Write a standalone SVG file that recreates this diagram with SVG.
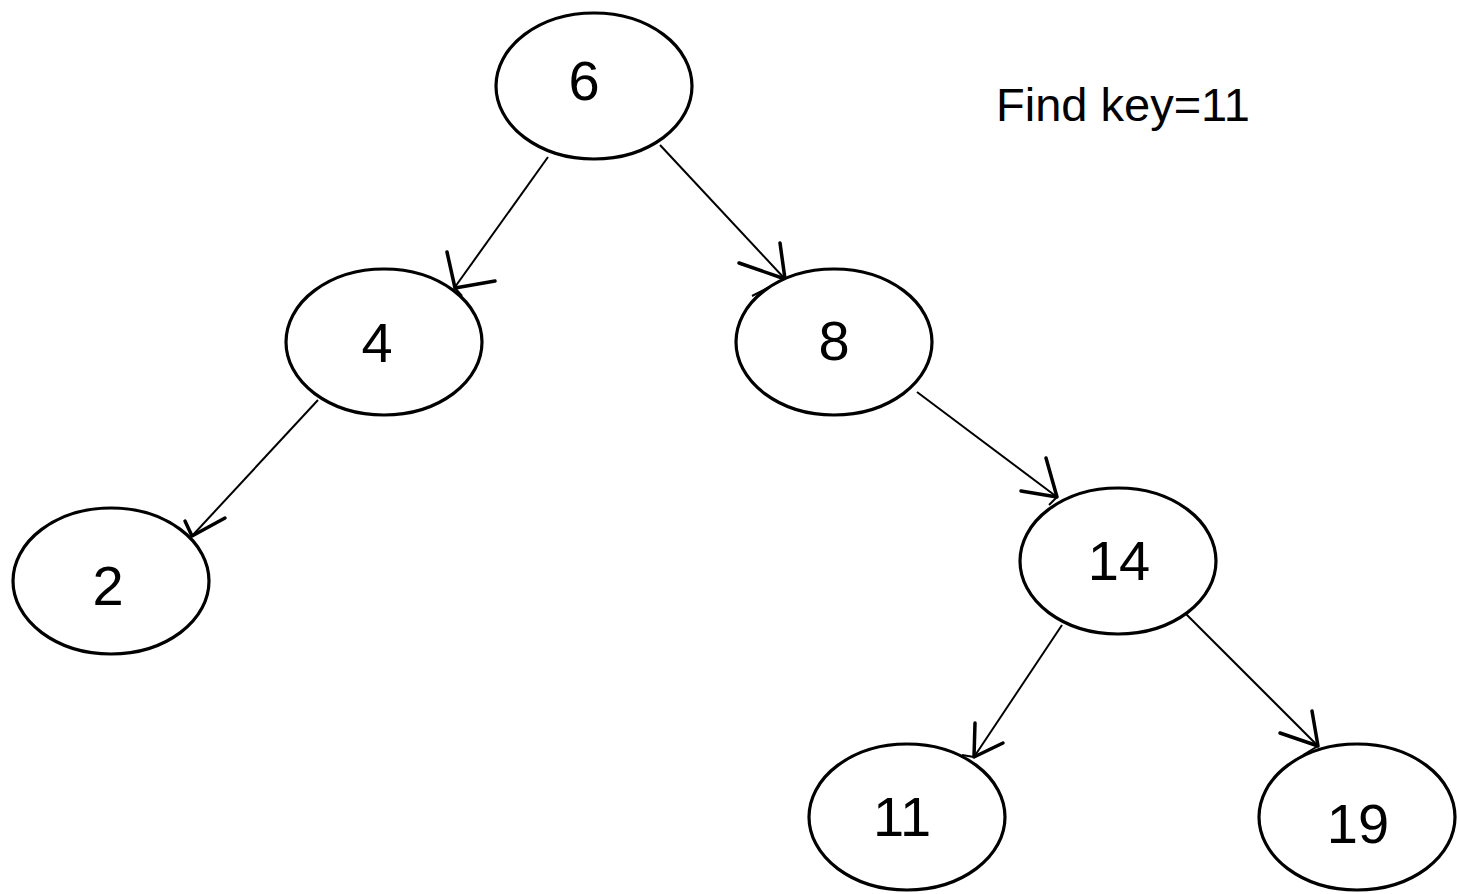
<svg xmlns="http://www.w3.org/2000/svg" width="1457" height="894" viewBox="0 0 1457 894">
  <style>
    .node ellipse { fill: #fff; stroke: #000; stroke-width: 3.2; }
    .node text { font-family: "Liberation Sans", Arial, sans-serif; font-size: 56px; fill: #000; text-anchor: middle; }
    .edge line { stroke: #000; stroke-width: 2; }
    .edge polyline { fill: none; stroke: #000; stroke-width: 3.5; stroke-linejoin: round; stroke-linecap: round; }
    .label { font-family: "Liberation Sans", Arial, sans-serif; font-size: 47px; fill: #000; }
  </style>
  <rect width="1457" height="894" fill="#fff"/>

  <!-- connectors with hand-drawn open arrowheads -->
  <g id="connectors" class="edge">
    <g id="e6-4">
      <line x1="548" y1="157" x2="455" y2="287"/>
      <polyline points="447,252 455,288 495,281"/>
      <line x1="455" y1="288" x2="462" y2="296"/>
    </g>
    <g id="e6-8">
      <line x1="660" y1="145" x2="785" y2="279"/>
      <polyline points="739,263 785,279 780,243"/>
      <line x1="785" y1="279" x2="752" y2="296"/>
    </g>
    <g id="e4-2">
      <line x1="318" y1="400" x2="192" y2="536"/>
      <polyline points="185,521 192,536 225,518"/>
    </g>
    <g id="e8-14">
      <line x1="917" y1="392" x2="1057" y2="497"/>
      <polyline points="1021,491 1057,497 1046,458"/>
      <line x1="1057" y1="497" x2="1049" y2="505"/>
    </g>
    <g id="e14-11">
      <line x1="1062" y1="625" x2="974" y2="757"/>
      <polyline points="975,723 974,757 1003,743"/>
      <line x1="974" y1="757" x2="962" y2="755"/>
    </g>
    <g id="e14-19">
      <line x1="1185" y1="613" x2="1318" y2="746"/>
      <polyline points="1280,733 1318,746 1312,711"/>
      <line x1="1318" y1="746" x2="1303" y2="755"/>
    </g>
  </g>

  <g id="n6" class="node">
    <ellipse cx="594" cy="86" rx="98" ry="73"/>
    <text x="584" y="100">6</text>
  </g>
  <g id="n4" class="node">
    <ellipse cx="384" cy="342" rx="98" ry="73"/>
    <text x="377" y="362">4</text>
  </g>
  <g id="n8" class="node">
    <ellipse cx="834" cy="342" rx="98" ry="73"/>
    <text x="834" y="360">8</text>
  </g>
  <g id="n2" class="node">
    <ellipse cx="111" cy="581" rx="98" ry="73"/>
    <text x="108" y="605">2</text>
  </g>
  <g id="n14" class="node">
    <ellipse cx="1118" cy="561" rx="98" ry="73"/>
    <text x="1119" y="580">14</text>
  </g>
  <g id="n11" class="node">
    <ellipse cx="907" cy="817" rx="98" ry="73"/>
    <text x="902" y="836">11</text>
  </g>
  <g id="n19" class="node">
    <ellipse cx="1357" cy="817" rx="98" ry="73"/>
    <text x="1358" y="843">19</text>
  </g>

  <text class="label" x="996" y="121">Find key=11</text>
</svg>
